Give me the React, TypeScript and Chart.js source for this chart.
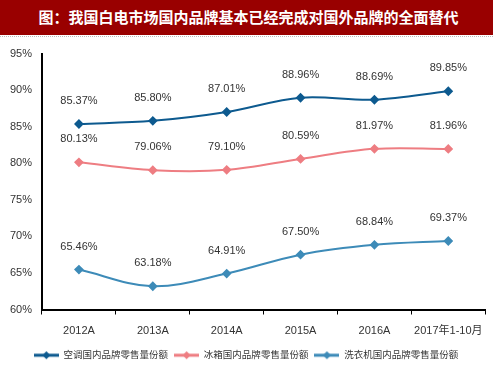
import React, { useEffect, useRef } from "react";
import { Chart, registerables } from "chart.js";

Chart.register(...registerables);

const titleText = "图：我国白电市场国内品牌基本已经完成对国外品牌的全面替代";
const categories = ["2012A", "2013A", "2014A", "2015A", "2016A", "2017年1-10月"];
const acShare = [85.37, 85.8, 87.01, 88.96, 88.69, 89.85];
const fridgeShare = [80.13, 79.06, 79.1, 80.59, 81.97, 81.96];
const washerShare = [65.46, 63.18, 64.91, 67.5, 68.84, 69.37];
const seriesNames = ["空调国内品牌零售量份额", "冰箱国内品牌零售量份额", "洗衣机国内品牌零售量份额"];
const seriesColors = ["#0d5a8f", "#ee7d82", "#3d8bb8"];
const yMin = 60;
const yMax = 95;
const yStep = 5;

const FONT = "'Liberation Sans', Arial, 'Noto Sans CJK SC', sans-serif";
const ICON_W = 25;

function makeLegendIcon(color: string): HTMLCanvasElement {
  const c = document.createElement("canvas");
  c.width = ICON_W;
  c.height = 10;
  const ctx = c.getContext("2d")!;
  ctx.strokeStyle = color;
  ctx.lineWidth = 3;
  ctx.beginPath();
  ctx.moveTo(0, 5);
  ctx.lineTo(ICON_W, 5);
  ctx.stroke();
  ctx.fillStyle = color;
  const m = ICON_W / 2;
  ctx.beginPath();
  ctx.moveTo(m, 1);
  ctx.lineTo(m + 4, 5);
  ctx.lineTo(m, 9);
  ctx.lineTo(m - 4, 5);
  ctx.closePath();
  ctx.fill();
  return c;
}

const dataLabelPlugin = {
  id: "dataLabels",
  afterDatasetsDraw(chart: any) {
    const ctx = chart.ctx;
    ctx.save();
    ctx.font = `11px ${FONT}`;
    ctx.fillStyle = "#333333";
    ctx.textAlign = "center";
    ctx.textBaseline = "middle";
    chart.data.datasets.forEach((ds: any, i: number) => {
      const meta = chart.getDatasetMeta(i);
      meta.data.forEach((pt: any, j: number) => {
        ctx.fillText(ds.data[j].toFixed(2) + "%", pt.x, pt.y - 23);
      });
    });
    ctx.restore();
  },
};

export default function App() {
  const ref = useRef<HTMLCanvasElement | null>(null);

  useEffect(() => {
    if (!ref.current) return;
    const allSeries = [acShare, fridgeShare, washerShare];
    const chart = new Chart(ref.current, {
      type: "line",
      data: {
        labels: categories,
        datasets: allSeries.map((d, i) => ({
          label: seriesNames[i],
          data: d,
          borderColor: seriesColors[i],
          backgroundColor: seriesColors[i],
          borderWidth: 2,
          tension: 0.35,
          pointStyle: "rectRot",
          pointRadius: 3.5,
          pointHoverRadius: 3.5,
          fill: false,
        })),
      },
      options: {
        animation: false,
        responsive: false,
        maintainAspectRatio: false,
        layout: { padding: { top: 15, right: 1, left: 0, bottom: 5 } },
        plugins: {
          tooltip: { enabled: false },
          title: { display: false },
          legend: {
            display: true,
            position: "bottom",
            labels: {
              usePointStyle: true,
              pointStyleWidth: ICON_W,
              padding: 6,
              color: "#333333",
              font: { size: 9.5, family: FONT },
              generateLabels: (ch: any) =>
                ch.data.datasets.map((ds: any, i: number) => ({
                  text: ds.label,
                  pointStyle: makeLegendIcon(seriesColors[i]),
                  fillStyle: seriesColors[i],
                  strokeStyle: seriesColors[i],
                  fontColor: "#333333",
                  lineWidth: 0,
                  hidden: false,
                  datasetIndex: i,
                })),
            },
          },
        },
        scales: {
          x: {
            offset: true,
            grid: {
              offset: true,
              drawOnChartArea: false,
              drawTicks: true,
              tickLength: 5,
              color: "#000000",
              lineWidth: 1,
            },
            border: { display: true, color: "#000000", width: 2 },
            ticks: {
              color: "#333333",
              padding: 10,
              font: { size: 11, family: FONT },
              maxRotation: 0,
              autoSkip: false,
            },
            afterFit: (s: any) => {
              s.height = 35;
            },
          },
          y: {
            min: yMin,
            max: yMax,
            grid: { drawOnChartArea: false, drawTicks: false },
            border: { display: true, color: "#000000", width: 2 },
            ticks: {
              stepSize: yStep,
              color: "#333333",
              padding: 10,
              font: { size: 11, family: FONT },
              callback: (v: any) => v + "%",
            },
            afterFit: (s: any) => {
              s.width = 42;
            },
          },
        },
      },
      plugins: [dataLabelPlugin],
    });
    return () => chart.destroy();
  }, []);

  return (
    <div style={{ position: "absolute", left: 0, top: 0, width: 493, height: 375, background: "#fff" }}>
      <div
        style={{
          height: 35,
          background: "#990000",
          color: "#ffffff",
          fontFamily: "'Noto Sans CJK SC', sans-serif",
          fontWeight: 700,
          fontSize: 15,
          lineHeight: "33px",
          textAlign: "center",
          paddingLeft: 4,
          boxSizing: "border-box",
        }}
      >
        {titleText}
      </div>
      <div style={{ height: 2, borderBottom: "1px dotted #bbbbbb", boxSizing: "border-box" }} />
      <canvas ref={ref} width={493} height={338} style={{ display: "block", width: 493, height: 338 }} />
    </div>
  );
}
